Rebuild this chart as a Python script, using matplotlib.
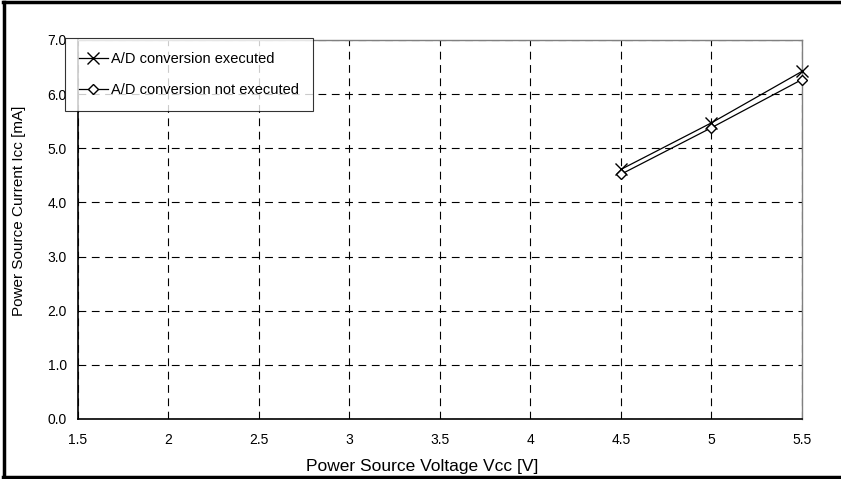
import matplotlib.pyplot as plt
from matplotlib.lines import Line2D

plt.rcParams['font.family'] = ['Liberation Sans', 'DejaVu Sans']

vcc = [4.5, 5.0, 5.5]
icc_ad_exec = [4.61, 5.47, 6.42]
icc_ad_not_exec = [4.52, 5.38, 6.27]

x_ticks = [1.5, 2, 2.5, 3, 3.5, 4, 4.5, 5, 5.5]
x_tick_labels = ['1.5', '2', '2.5', '3', '3.5', '4', '4.5', '5', '5.5']
y_ticks = [0, 1, 2, 3, 4, 5, 6, 7]

fig = plt.figure(figsize=(8.41, 4.79), dpi=100)
ax = fig.add_axes([0.0927, 0.1253, 0.8609, 0.7912])

ax.plot(vcc, icc_ad_exec, color='black', lw=0.9, marker='x', ms=8,
        mew=1.0, clip_on=False, zorder=3, label='A/D conversion executed')
ax.plot(vcc, icc_ad_not_exec, color='black', lw=0.9, marker='D', ms=5.5,
        mfc='white', mew=1.0, clip_on=False, zorder=3,
        label='A/D conversion not executed')

ax.set_xlim(1.5, 5.5)
ax.set_ylim(0, 7)
ax.set_xticks(x_ticks)
ax.set_xticklabels(x_tick_labels)
ax.set_yticks(y_ticks)
ax.set_yticklabels([f'{v:.1f}' for v in y_ticks])
ax.tick_params(length=0, labelsize=10, pad=10)
ax.tick_params(axis='y', pad=8)

ax.grid(True, color='black', linestyle=(0, (7, 5)), linewidth=0.8)

for s in ['left', 'bottom']:
    ax.spines[s].set_color('black')
    ax.spines[s].set_linewidth(1.2)
for s in ['top', 'right']:
    ax.spines[s].set_color('#808080')
    ax.spines[s].set_linewidth(1.0)

ax.set_xlabel('Power Source Voltage Vcc [V]', fontsize=12.5)
ax.xaxis.set_label_coords(0.475, -0.106)
ax.set_ylabel('Power Source Current Icc [mA]', fontsize=11)
ax.yaxis.set_label_coords(-0.072, 0.55)

leg = ax.legend(loc='upper left', bbox_to_anchor=(-0.018, 1.005),
                fontsize=10.5, frameon=True, fancybox=False, handlelength=2.0,
                borderpad=0.95, labelspacing=1.15, handletextpad=0.2,
                borderaxespad=0)
leg.get_frame().set_edgecolor('black')
leg.get_frame().set_linewidth(0.8)

# outer frame lines
fig.add_artist(Line2D([0.004, 1.0], [0.995, 0.995], transform=fig.transFigure,
                      color='black', lw=2.5))
fig.add_artist(Line2D([0.005, 0.005], [0.003, 0.995], transform=fig.transFigure,
                      color='black', lw=2.5))
fig.add_artist(Line2D([0.004, 1.0], [0.004, 0.004], transform=fig.transFigure,
                      color='black', lw=2.5))

fig.savefig('out.png', dpi=100)
